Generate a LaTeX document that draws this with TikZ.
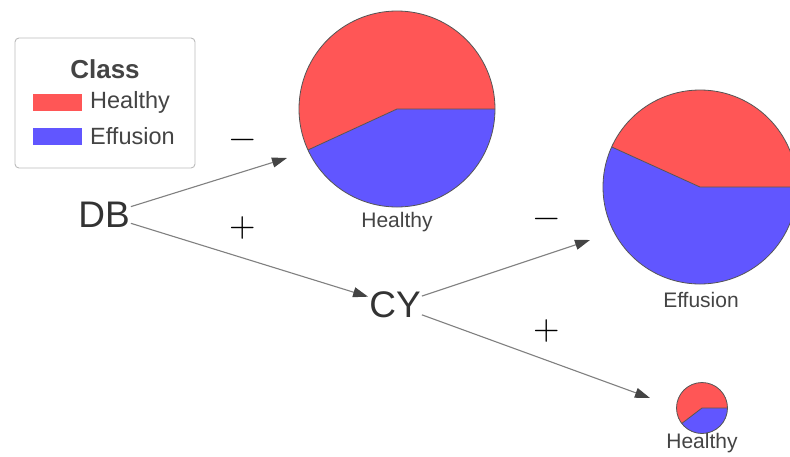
\documentclass[tikz,border=0pt]{standalone}
\usepackage{fontspec}
\setmainfont{Liberation Sans}
\newfontfamily\signfont{Latin Modern Math}
\usetikzlibrary{arrows.meta}
\definecolor{pred}{HTML}{FF5656}
\definecolor{pblue}{HTML}{6156FF}
\definecolor{txt}{HTML}{444444}
\definecolor{nodetxt}{HTML}{333333}
\definecolor{arrowc}{HTML}{808080}
\definecolor{tipc}{HTML}{444444}
\definecolor{legendc}{HTML}{BBBBBB}
\definecolor{piec}{HTML}{555555}
\begin{document}
\begin{tikzpicture}[x=1pt,y=-1pt,
  pieline/.style={draw=piec, line width=0.8pt},
  piebox/.style={circle, draw=piec, line width=0.8pt, inner sep=0pt},
  varnode/.style={text=nodetxt, inner sep=1pt, font=\fontsize{37}{40}\selectfont},
  pielabel/.style={text=txt, inner sep=1pt, font=\fontsize{21}{24}\selectfont},
  legtext/.style={text=txt, inner sep=0pt, anchor=west, font=\fontsize{23.5}{26}\selectfont},
  legswatch/.style={minimum width=49pt, minimum height=17pt, inner sep=0pt},
  signlabel/.style={text=black, inner sep=0pt, font=\signfont\fontsize{34}{36}\selectfont},
  arr/.style={draw=arrowc, line width=1.1pt, -{Triangle[length=15pt,width=10pt,color=tipc]}}
]
\useasboundingbox (0,0) rectangle (790,456);
\clip (0,0) rectangle (790,456);
\fill[white] (0,0) rectangle (790,456);

% legend
\node[draw=legendc, line width=0.9pt, rounded corners=4pt, fill=white,
      minimum width=180pt, minimum height=130pt, inner sep=0pt] (legend) at (105,103) {};
\node[text=txt, inner sep=0pt, font=\fontsize{26}{30}\selectfont\bfseries] (ltitle) at (105,69) {Class};
\node[legswatch, fill=pred] (lred) at (57.5,102.5) {};
\node[legtext] (lhealthy) at (90,102.5) {Healthy};
\node[legswatch, fill=pblue] (lblue) at (57.5,136.5) {};
\node[legtext] (leffusion) at (90,136.5) {Effusion};

% pie 1
\fill[pblue] (397,109) -- ++(0:98) arc[start angle=0, end angle=155.3, radius=98] -- cycle;
\fill[pred] (397,109) -- ++(155.3:98) arc[start angle=155.3, end angle=360, radius=98] -- cycle;
\draw[pieline] (397,109) -- ++(0:98) (397,109) -- ++(155.3:98);
\node[piebox, minimum size=196pt] (p1) at (397,109) {};
\node[pielabel] (l1) at (397,222) {Healthy};

% pie 2
\fill[pblue] (700,187) -- ++(0:97) arc[start angle=0, end angle=204.4, radius=97] -- cycle;
\fill[pred] (700,187) -- ++(204.4:97) arc[start angle=204.4, end angle=360, radius=97] -- cycle;
\draw[pieline] (700,187) -- ++(0:97) (700,187) -- ++(204.4:97);
\node[piebox, minimum size=194pt] (p2) at (700,187) {};
\node[pielabel] (l2) at (701,300) {Effusion};

% pie 3
\fill[pblue] (702,408) -- ++(0:25.5) arc[start angle=0, end angle=142.7, radius=25.5] -- cycle;
\fill[pred] (702,408) -- ++(142.7:25.5) arc[start angle=142.7, end angle=360, radius=25.5] -- cycle;
\draw[pieline] (702,408) -- ++(0:25.5) (702,408) -- ++(142.7:25.5);
\node[piebox, minimum size=51pt] (p3) at (702,408) {};
\node[pielabel] (l3) at (702,443) {Healthy};

% variable nodes
\node[varnode] (db) at (104,215) {DB};
\node[varnode] (cy) at (395,305) {CY};

% arrow end points
\coordinate (a1) at (287,158);
\coordinate (a3) at (590,240);
\coordinate (a4) at (650,398);

\draw[arr] (db) -- (a1);
\draw[arr] (db) -- (cy);
\draw[arr] (cy) -- (a3);
\draw[arr] (cy) -- (a4);

% signs
\node[signlabel] (s1) at (243,144) {−};
\node[signlabel] (s2) at (243,228) {+};
\node[signlabel] (s3) at (547,223) {−};
\node[signlabel] (s4) at (547,331) {+};
\end{tikzpicture}
\end{document}
